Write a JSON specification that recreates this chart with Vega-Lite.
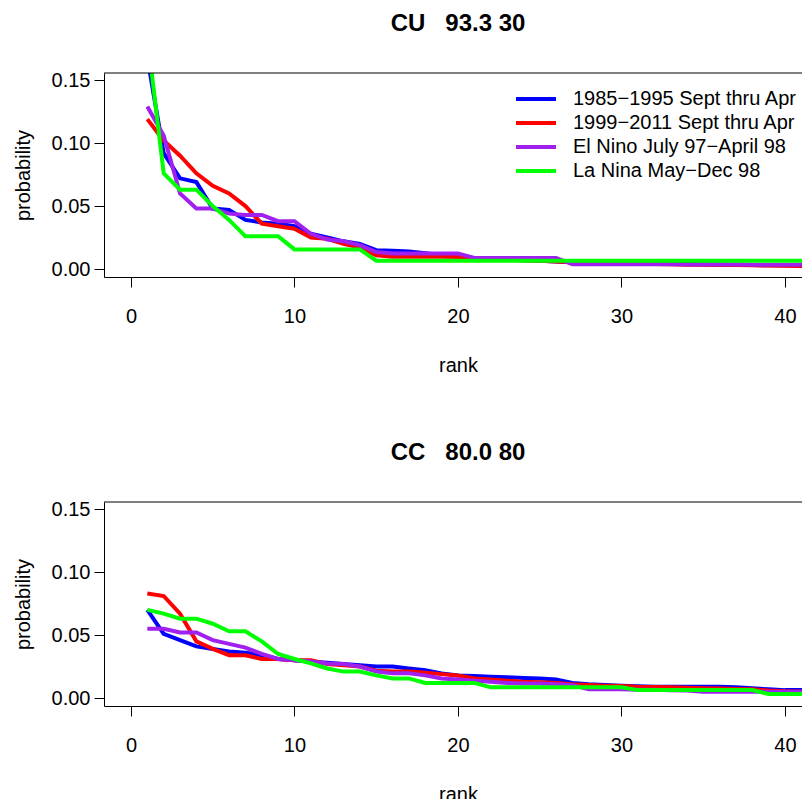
{
  "$schema": "https://vega.github.io/schema/vega-lite/v6.json",
  "autosize": {"type": "none"},
  "padding": {"left": 104, "top": 73, "right": 698, "bottom": 726},
  "config": {
    "font": "Liberation Sans",
    "view": {"stroke": null},
    "axis": {"domainColor": "#000000", "tickColor": "#000000", "labelColor": "#000000", "titleColor": "#000000", "labelFontSize": 20, "titleFontSize": 20, "titleFontWeight": "normal", "grid": false, "tickSize": 10, "domainWidth": 1, "tickWidth": 1, "labelFont": "Liberation Sans", "titleFont": "Liberation Sans"},
    "axisX": {"labelPadding": 19, "titlePadding": 29},
    "axisY": {"labelPadding": 4, "titlePadding": 18},
    "title": {"fontSize": 24, "fontWeight": "bold", "color": "#000000", "frame": "group", "anchor": "middle", "font": "Liberation Sans", "offset": 34},
    "legend": {"labelFont": "Liberation Sans"}
  },
  "datasets": {
    "cu": [
      {"rank": 1, "a": 0.168, "b": 0.119, "c": 0.129, "d": 0.185},
      {"rank": 2, "a": 0.092, "b": 0.102, "c": 0.106, "d": 0.076},
      {"rank": 3, "a": 0.072, "b": 0.090, "c": 0.060, "d": 0.063},
      {"rank": 4, "a": 0.069, "b": 0.076, "c": 0.048, "d": 0.063},
      {"rank": 5, "a": 0.048, "b": 0.066, "c": 0.048, "d": 0.050},
      {"rank": 6, "a": 0.047, "b": 0.060, "c": 0.044, "d": 0.039},
      {"rank": 7, "a": 0.039, "b": 0.050, "c": 0.043, "d": 0.026},
      {"rank": 8, "a": 0.037, "b": 0.036, "c": 0.043, "d": 0.026},
      {"rank": 9, "a": 0.036, "b": 0.034, "c": 0.038, "d": 0.026},
      {"rank": 10, "a": 0.034, "b": 0.032, "c": 0.038, "d": 0.0156},
      {"rank": 11, "a": 0.028, "b": 0.025, "c": 0.028, "d": 0.0156},
      {"rank": 12, "a": 0.025, "b": 0.024, "c": 0.0235, "d": 0.0156},
      {"rank": 13, "a": 0.022, "b": 0.020, "c": 0.022, "d": 0.0156},
      {"rank": 14, "a": 0.020, "b": 0.017, "c": 0.019, "d": 0.0156},
      {"rank": 15, "a": 0.015, "b": 0.011, "c": 0.0135, "d": 0.0066},
      {"rank": 16, "a": 0.0145, "b": 0.0098, "c": 0.0124, "d": 0.0066},
      {"rank": 17, "a": 0.014, "b": 0.0098, "c": 0.0124, "d": 0.0066},
      {"rank": 18, "a": 0.0125, "b": 0.0098, "c": 0.0124, "d": 0.0066},
      {"rank": 19, "a": 0.011, "b": 0.0098, "c": 0.0124, "d": 0.0066},
      {"rank": 20, "a": 0.010, "b": 0.0095, "c": 0.0124, "d": 0.0066},
      {"rank": 21, "a": 0.0085, "b": 0.0085, "c": 0.0088, "d": 0.0066},
      {"rank": 22, "a": 0.008, "b": 0.008, "c": 0.0087, "d": 0.0066},
      {"rank": 23, "a": 0.0075, "b": 0.0075, "c": 0.0087, "d": 0.0066},
      {"rank": 24, "a": 0.007, "b": 0.007, "c": 0.0087, "d": 0.0066},
      {"rank": 25, "a": 0.0065, "b": 0.0065, "c": 0.0087, "d": 0.0066},
      {"rank": 26, "a": 0.006, "b": 0.006, "c": 0.0087, "d": 0.0066},
      {"rank": 27, "a": 0.0055, "b": 0.0055, "c": 0.0039, "d": 0.0066},
      {"rank": 28, "a": 0.005, "b": 0.005, "c": 0.0039, "d": 0.0066},
      {"rank": 29, "a": 0.005, "b": 0.0048, "c": 0.0039, "d": 0.0066},
      {"rank": 30, "a": 0.0048, "b": 0.0045, "c": 0.0039, "d": 0.0066},
      {"rank": 31, "a": 0.0046, "b": 0.0042, "c": 0.0039, "d": 0.0066},
      {"rank": 32, "a": 0.0044, "b": 0.004, "c": 0.0038, "d": 0.0066},
      {"rank": 33, "a": 0.0042, "b": 0.0038, "c": 0.0038, "d": 0.0066},
      {"rank": 34, "a": 0.004, "b": 0.0035, "c": 0.0037, "d": 0.0066},
      {"rank": 35, "a": 0.0038, "b": 0.0034, "c": 0.0037, "d": 0.0066},
      {"rank": 36, "a": 0.0036, "b": 0.0033, "c": 0.0036, "d": 0.0066},
      {"rank": 37, "a": 0.0034, "b": 0.0032, "c": 0.0036, "d": 0.0066},
      {"rank": 38, "a": 0.0032, "b": 0.003, "c": 0.0035, "d": 0.0066},
      {"rank": 39, "a": 0.003, "b": 0.0028, "c": 0.0035, "d": 0.0066},
      {"rank": 40, "a": 0.003, "b": 0.0026, "c": 0.0035, "d": 0.0066},
      {"rank": 41, "a": 0.0028, "b": 0.0024, "c": 0.0034, "d": 0.0066},
      {"rank": 42, "a": 0.0027, "b": 0.0023, "c": 0.0034, "d": 0.0066}
    ],
    "cc": [
      {"rank": 1, "a": 0.070, "b": 0.083, "c": 0.055, "d": 0.070},
      {"rank": 2, "a": 0.051, "b": 0.081, "c": 0.055, "d": 0.067},
      {"rank": 3, "a": 0.046, "b": 0.067, "c": 0.052, "d": 0.063},
      {"rank": 4, "a": 0.041, "b": 0.045, "c": 0.052, "d": 0.063},
      {"rank": 5, "a": 0.039, "b": 0.039, "c": 0.046, "d": 0.059},
      {"rank": 6, "a": 0.037, "b": 0.034, "c": 0.043, "d": 0.053},
      {"rank": 7, "a": 0.036, "b": 0.034, "c": 0.040, "d": 0.053},
      {"rank": 8, "a": 0.034, "b": 0.031, "c": 0.035, "d": 0.045},
      {"rank": 9, "a": 0.031, "b": 0.031, "c": 0.031, "d": 0.035},
      {"rank": 10, "a": 0.030, "b": 0.030, "c": 0.030, "d": 0.031},
      {"rank": 11, "a": 0.029, "b": 0.030, "c": 0.029, "d": 0.0275},
      {"rank": 12, "a": 0.028, "b": 0.027, "c": 0.0275, "d": 0.0235},
      {"rank": 13, "a": 0.027, "b": 0.026, "c": 0.027, "d": 0.021},
      {"rank": 14, "a": 0.026, "b": 0.025, "c": 0.025, "d": 0.021},
      {"rank": 15, "a": 0.025, "b": 0.0217, "c": 0.021, "d": 0.018},
      {"rank": 16, "a": 0.025, "b": 0.021, "c": 0.0196, "d": 0.0156},
      {"rank": 17, "a": 0.0235, "b": 0.021, "c": 0.0196, "d": 0.0156},
      {"rank": 18, "a": 0.022, "b": 0.020, "c": 0.018, "d": 0.012},
      {"rank": 19, "a": 0.0196, "b": 0.019, "c": 0.0156, "d": 0.012},
      {"rank": 20, "a": 0.018, "b": 0.018, "c": 0.0148, "d": 0.012},
      {"rank": 21, "a": 0.0175, "b": 0.0156, "c": 0.0138, "d": 0.012},
      {"rank": 22, "a": 0.017, "b": 0.0148, "c": 0.013, "d": 0.0085},
      {"rank": 23, "a": 0.0165, "b": 0.0138, "c": 0.012, "d": 0.0085},
      {"rank": 24, "a": 0.016, "b": 0.013, "c": 0.0116, "d": 0.0085},
      {"rank": 25, "a": 0.0155, "b": 0.0125, "c": 0.0115, "d": 0.0085},
      {"rank": 26, "a": 0.0148, "b": 0.012, "c": 0.011, "d": 0.0085},
      {"rank": 27, "a": 0.012, "b": 0.011, "c": 0.0103, "d": 0.0085},
      {"rank": 28, "a": 0.011, "b": 0.0103, "c": 0.0069, "d": 0.0085},
      {"rank": 29, "a": 0.0103, "b": 0.0098, "c": 0.0069, "d": 0.0085},
      {"rank": 30, "a": 0.0098, "b": 0.0095, "c": 0.0069, "d": 0.0085},
      {"rank": 31, "a": 0.0094, "b": 0.009, "c": 0.0065, "d": 0.0063},
      {"rank": 32, "a": 0.009, "b": 0.0088, "c": 0.0065, "d": 0.0063},
      {"rank": 33, "a": 0.009, "b": 0.0085, "c": 0.0062, "d": 0.0063},
      {"rank": 34, "a": 0.009, "b": 0.0082, "c": 0.006, "d": 0.0063},
      {"rank": 35, "a": 0.009, "b": 0.0078, "c": 0.005, "d": 0.0063},
      {"rank": 36, "a": 0.009, "b": 0.0075, "c": 0.005, "d": 0.0063},
      {"rank": 37, "a": 0.0085, "b": 0.0072, "c": 0.005, "d": 0.0063},
      {"rank": 38, "a": 0.0077, "b": 0.0069, "c": 0.005, "d": 0.0063},
      {"rank": 39, "a": 0.0069, "b": 0.006, "c": 0.005, "d": 0.0032},
      {"rank": 40, "a": 0.0063, "b": 0.0055, "c": 0.005, "d": 0.0032},
      {"rank": 41, "a": 0.0063, "b": 0.005, "c": 0.005, "d": 0.0032},
      {"rank": 42, "a": 0.006, "b": 0.005, "c": 0.005, "d": 0.0032}
    ],
    "frame": [{"top": 0.1556}]
  },
  "spacing": 66,
  "resolve": {"legend": {"color": "independent"}},
  "vconcat": [
    {
      "width": 698,
      "height": 204,
      "title": {"text": "CU\u00a0\u00a0\u00a093.3 30", "dx": 5},
      "layer": [
        {
          "data": {"name": "cu"},
          "transform": [{"fold": ["a", "b", "c", "d"], "as": ["series", "p"]}],
          "mark": {"type": "line", "clip": true, "strokeWidth": 4},
          "encoding": {
            "x": {"field": "rank", "type": "quantitative", "scale": {"domain": [-1.65, 41.04], "nice": false, "zero": false}, "axis": {"values": [0, 10, 20, 30, 40], "title": "rank", "titleX": 354}},
            "y": {"field": "p", "type": "quantitative", "scale": {"domain": [-0.0063, 0.1556], "nice": false, "zero": false}, "axis": {"values": [0, 0.05, 0.1, 0.15], "format": ".2f", "title": "probability"}},
            "color": {
              "field": "series", "type": "nominal",
              "scale": {"domain": ["a", "b", "c", "d"], "range": ["#0000FF", "#FF0000", "#A020F0", "#00FF00"]},
              "legend": {
                "orient": "none", "legendX": 410, "legendY": 14, "title": null,
                "symbolType": "stroke", "symbolSize": 1600, "symbolStrokeWidth": 4,
                "labelFontSize": 20, "labelColor": "#000000", "labelOffset": 15, "rowPadding": 0, "clipHeight": 24, "padding": 0, "labelLimit": 0,
                "labelExpr": "datum.value == 'a' ? '1985−1995 Sept thru Apr' : datum.value == 'b' ? '1999−2011 Sept thru Apr' : datum.value == 'c' ? 'El Nino July 97−April 98' : 'La Nina May−Dec 98'"
              }
            }
          }
        },
        {
          "data": {"name": "frame"},
          "mark": {"type": "rule", "color": "#000000", "strokeWidth": 1},
          "encoding": {"y": {"field": "top", "type": "quantitative"}}
        }
      ]
    },
    {
      "width": 698,
      "height": 204,
      "title": {"text": "CC\u00a0\u00a0\u00a080.0 80", "dx": 5},
      "layer": [
        {
          "data": {"name": "cc"},
          "transform": [{"fold": ["a", "b", "c", "d"], "as": ["series", "p"]}],
          "mark": {"type": "line", "clip": true, "strokeWidth": 4},
          "encoding": {
            "x": {"field": "rank", "type": "quantitative", "scale": {"domain": [-1.65, 41.04], "nice": false, "zero": false}, "axis": {"values": [0, 10, 20, 30, 40], "title": "rank", "titleX": 354}},
            "y": {"field": "p", "type": "quantitative", "scale": {"domain": [-0.0063, 0.1556], "nice": false, "zero": false}, "axis": {"values": [0, 0.05, 0.1, 0.15], "format": ".2f", "title": "probability"}},
            "color": {
              "field": "series", "type": "nominal",
              "scale": {"domain": ["a", "b", "c", "d"], "range": ["#0000FF", "#FF0000", "#A020F0", "#00FF00"]},
              "legend": null
            }
          }
        },
        {
          "data": {"name": "frame"},
          "mark": {"type": "rule", "color": "#000000", "strokeWidth": 1},
          "encoding": {"y": {"field": "top", "type": "quantitative"}}
        }
      ]
    }
  ]
}
